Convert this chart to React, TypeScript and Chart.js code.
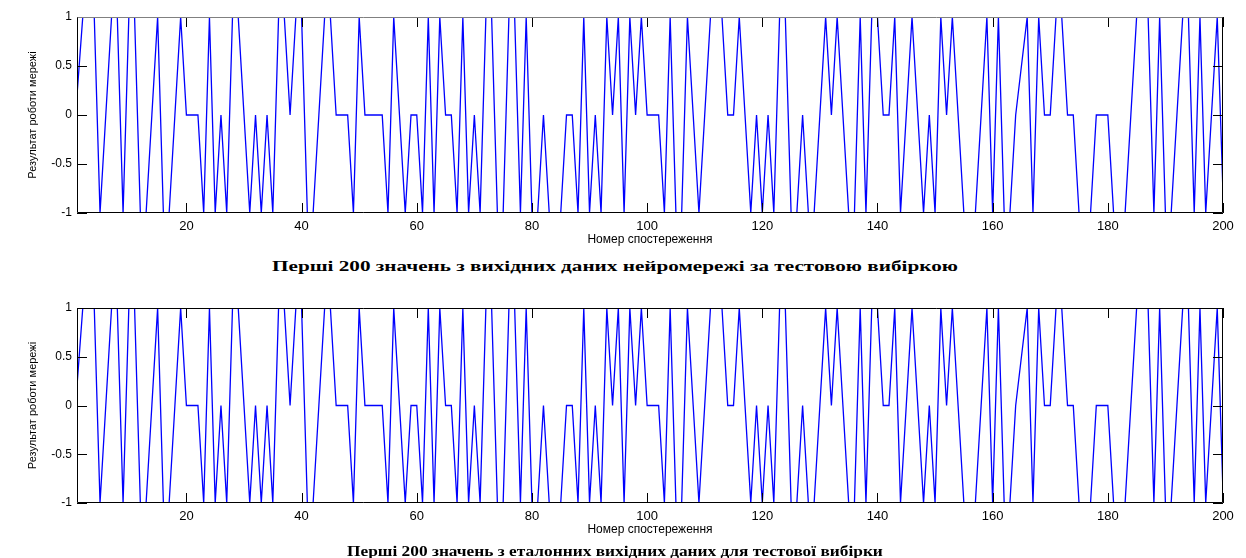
import React, { useEffect, useLayoutEffect, useRef } from "react";
import { Chart, registerables } from "chart.js";

Chart.register(...registerables);

// ---- data ----
const xTicks = [20, 40, 60, 80, 100, 120, 140, 160, 180, 200];
const yTicks = [-1, -0.5, 0, 0.5, 1];
const yTickLabels: Record<string, string> = { "-1": "-1", "-0.5": "-0.5", "0": "0", "0.5": "0.5", "1": "1" };
const xTitle = "Номер спостереження";
const yTitle = "Результат роботи мережі";
const captionTop = "Перші 200 значень з вихідних даних нейромережі за тестовою вибіркою";
const captionBottom = "Перші 200 значень з еталонних вихідних даних для тестової вибірки";

// network output (first 200 observations)
const networkOutput = [
  0.2, 1, 1, 1, -1, 0, 1, 1, -1, 1,
  1, -1, -1, 0, 1, -1, -1, 0, 1, 0,
  0, 0, -1, 1, -1, 0, -1, 1, 1, 0,
  -1, 0, -1, 0, -1, 1, 1, 0, 1, 1,
  -1, -1, 0, 1, 1, 0, 0, 0, -1, 1,
  0, 0, 0, 0, -1, 1, 0, -1, 0, 0,
  -1, 1, -1, 1, 0, 0, -1, 1, -1, 0,
  -1, 1, 1, -1, -1, 1, 1, -1, 1, -1,
  -1, 0, -1, -1, -1, 0, 0, -1, 1, -1,
  0, -1, 1, 0, 1, -1, 1, 0, 1, 0,
  0, 0, -1, 1, -1, -1, 1, 0, -1, 0,
  1, 1, 1, 0, 0, 1, 0, -1, 0, -1,
  0, -1, 1, 1, -1, -1, 0, -1, -1, 0,
  1, 0, 1, 0, -1, -1, 1, -1, 1, 1,
  0, 0, 1, -1, 0, 1, 0, -1, 0, -1,
  1, 0, 1, 0, -1, -1, -1, 0, 1, -1,
  1, -1, -1, 0, 0.5, 1, -1, 1, 0, 0,
  1, 1, 0, 0, -1, -1, -1, 0, 0, 0,
  -1, -1, -1, 0, 1, 1, 1, -1, 1, -1,
  -1, 0, 1, 1, -1, 1, -1, 0, 1, -0.8,
];

// reference (target) output (first 200 observations)
const referenceOutput = [
  0.2, 1, 1, 1, -1, 0, 1, 1, -1, 1,
  1, -1, -1, 0, 1, -1, -1, 0, 1, 0,
  0, 0, -1, 1, -1, 0, -1, 1, 1, 0,
  -1, 0, -1, 0, -1, 1, 1, 0, 1, 1,
  -1, -1, 0, 1, 1, 0, 0, 0, -1, 1,
  0, 0, 0, 0, -1, 1, 0, -1, 0, 0,
  -1, 1, -1, 1, 0, 0, -1, 1, -1, 0,
  -1, 1, 1, -1, -1, 1, 1, -1, 1, -1,
  -1, 0, -1, -1, -1, 0, 0, -1, 1, -1,
  0, -1, 1, 0, 1, -1, 1, 0, 1, 0,
  0, 0, -1, 1, -1, -1, 1, 0, -1, 0,
  1, 1, 1, 0, 0, 1, 0, -1, 0, -1,
  0, -1, 1, 1, -1, -1, 0, -1, -1, 0,
  1, 0, 1, 0, -1, -1, 1, -1, 1, 1,
  0, 0, 1, -1, 0, 1, 0, -1, 0, -1,
  1, 0, 1, 0, -1, -1, -1, 0, 1, -1,
  1, -1, -1, 0, 0.5, 1, -1, 1, 0, 0,
  1, 1, 0, 0, -1, -1, -1, 0, 0, 0,
  -1, -1, -1, 0, 1, 1, 1, -1, 1, -1,
  -1, 0, 1, 1, -1, 1, -1, 0, 1, -0.9,
];

// ---- layout ----
const W = 1246;
const PLOT_LEFT = 77;
const PLOT_RIGHT = 1223;
const CANVAS_H = 255;
const TICK_LEN = 10;

const innerTicks = {
  id: "innerTicks",
  afterDraw(chart: any, _args: any, opts: any) {
    const { ctx, chartArea: a, scales } = chart;
    const x = scales.x;
    const y = scales.y;
    ctx.save();
    ctx.lineWidth = 1;
    ctx.strokeStyle = "#000";
    ctx.beginPath();
    for (const v of xTicks) {
      const px = Math.round(x.getPixelForValue(v)) + 0.5;
      ctx.moveTo(px, a.bottom);
      ctx.lineTo(px, a.bottom - TICK_LEN);
      ctx.moveTo(px, a.top);
      ctx.lineTo(px, a.top + TICK_LEN);
    }
    for (const v of yTicks) {
      const py = Math.round(y.getPixelForValue(v)) + 0.5;
      ctx.moveTo(a.left, py);
      ctx.lineTo(a.left + TICK_LEN, py);
      ctx.moveTo(a.right, py);
      ctx.lineTo(a.right - TICK_LEN, py);
    }
    ctx.stroke();
    // box
    const l = Math.round(a.left) + 0.5;
    const r = Math.round(a.right) - 0.5;
    const t = Math.round(a.top) + 0.5;
    const b = Math.round(a.bottom) - 0.5;
    ctx.beginPath();
    ctx.moveTo(l, t);
    ctx.lineTo(l, b);
    ctx.lineTo(r, b);
    ctx.lineTo(r, t);
    ctx.stroke();
    ctx.strokeStyle = opts.topColor || "#000";
    ctx.beginPath();
    ctx.moveTo(l, t);
    ctx.lineTo(r, t);
    ctx.stroke();
    ctx.restore();
  },
};

function Panel({ values, top, padTop, topColor }: { values: number[]; top: number; padTop: number; topColor: string }) {
  const ref = useRef<HTMLCanvasElement | null>(null);
  useEffect(() => {
    const canvas = ref.current!;
    const chart = new Chart(canvas, {
      type: "line",
      data: {
        datasets: [
          {
            data: values.map((v, i) => ({ x: i + 1, y: v })),
            borderColor: "#0000ff",
            borderWidth: 1.3,
            pointRadius: 0,
            tension: 0,
            fill: false,
          },
        ],
      },
      options: {
        responsive: false,
        animation: false,
        devicePixelRatio: 1,
        layout: { padding: { left: 0, top: padTop, right: W - PLOT_RIGHT, bottom: 0 } },
        plugins: {
          legend: { display: false },
          tooltip: { enabled: false },
          innerTicks: { topColor },
        } as any,
        scales: {
          x: {
            type: "linear",
            min: 1,
            max: 200,
            afterFit: (s: any) => {
              s.height = 42;
            },
            afterBuildTicks: (s: any) => {
              s.ticks = xTicks.map((v) => ({ value: v }));
            },
            grid: { display: false, drawTicks: false },
            border: { display: false },
            ticks: {
              padding: 6,
              autoSkip: false,
              maxRotation: 0,
              color: "#000",
              font: { family: "'Liberation Sans', Arial, sans-serif", size: 13 },
              callback: (v: any) => String(v),
            },
            title: {
              display: true,
              text: xTitle,
              color: "#000",
              font: { family: "'Liberation Sans', Arial, sans-serif", size: 12 },
              padding: { top: 0, bottom: 8 },
            },
          },
          y: {
            type: "linear",
            min: -1,
            max: 1,
            afterFit: (s: any) => {
              s.width = PLOT_LEFT;
            },
            afterBuildTicks: (s: any) => {
              s.ticks = yTicks.map((v) => ({ value: v }));
            },
            grid: { display: false, drawTicks: false },
            border: { display: false },
            ticks: {
              padding: 5,
              color: "#000",
              font: { family: "'Liberation Sans', Arial, sans-serif", size: 12 },
              callback: (v: any) => yTickLabels[String(v)] ?? String(v),
            },
            title: {
              display: true,
              text: yTitle,
              color: "#000",
              font: { family: "'Liberation Sans', Arial, sans-serif", size: 11 },
              padding: { top: 26, bottom: 0 },
            },
          },
        },
      } as any,
      plugins: [innerTicks as any],
    });
    return () => chart.destroy();
  }, [values, padTop, topColor]);
  return (
    <canvas
      ref={ref}
      width={W}
      height={CANVAS_H}
      style={{ position: "absolute", left: 0, top, width: W, height: CANVAS_H, display: "block" }}
    />
  );
}

function Caption({ text, centerY, targetWidth }: { text: string; centerY: number; targetWidth: number }) {
  const ref = useRef<HTMLSpanElement | null>(null);
  useLayoutEffect(() => {
    const el = ref.current!;
    const w = el.offsetWidth;
    if (w > 0) el.style.transform = `scaleX(${targetWidth / w})`;
  }, [text, targetWidth]);
  return (
    <div
      style={{
        position: "absolute",
        left: 0,
        width: 1230,
        top: centerY - 8,
        height: 16,
        lineHeight: "16px",
        textAlign: "center",
        fontFamily: "'Liberation Serif', 'Times New Roman', serif",
        fontWeight: "bold",
        fontSize: 15,
        color: "#000",
        whiteSpace: "nowrap",
      }}
    >
      <span ref={ref} style={{ display: "inline-block", transformOrigin: "50% 50%" }}>
        {text}
      </span>
    </div>
  );
}

export default function App() {
  return (
    <div style={{ position: "absolute", left: 0, top: 0, width: W, height: 558, background: "#fff", overflow: "hidden" }}>
      <Panel values={networkOutput} top={0} padTop={17} topColor="#808080" />
      <Caption text={captionTop} centerY={266} targetWidth={686} />
      <Panel values={referenceOutput} top={290} padTop={18} topColor="#000" />
      <Caption text={captionBottom} centerY={551} targetWidth={536} />
    </div>
  );
}
